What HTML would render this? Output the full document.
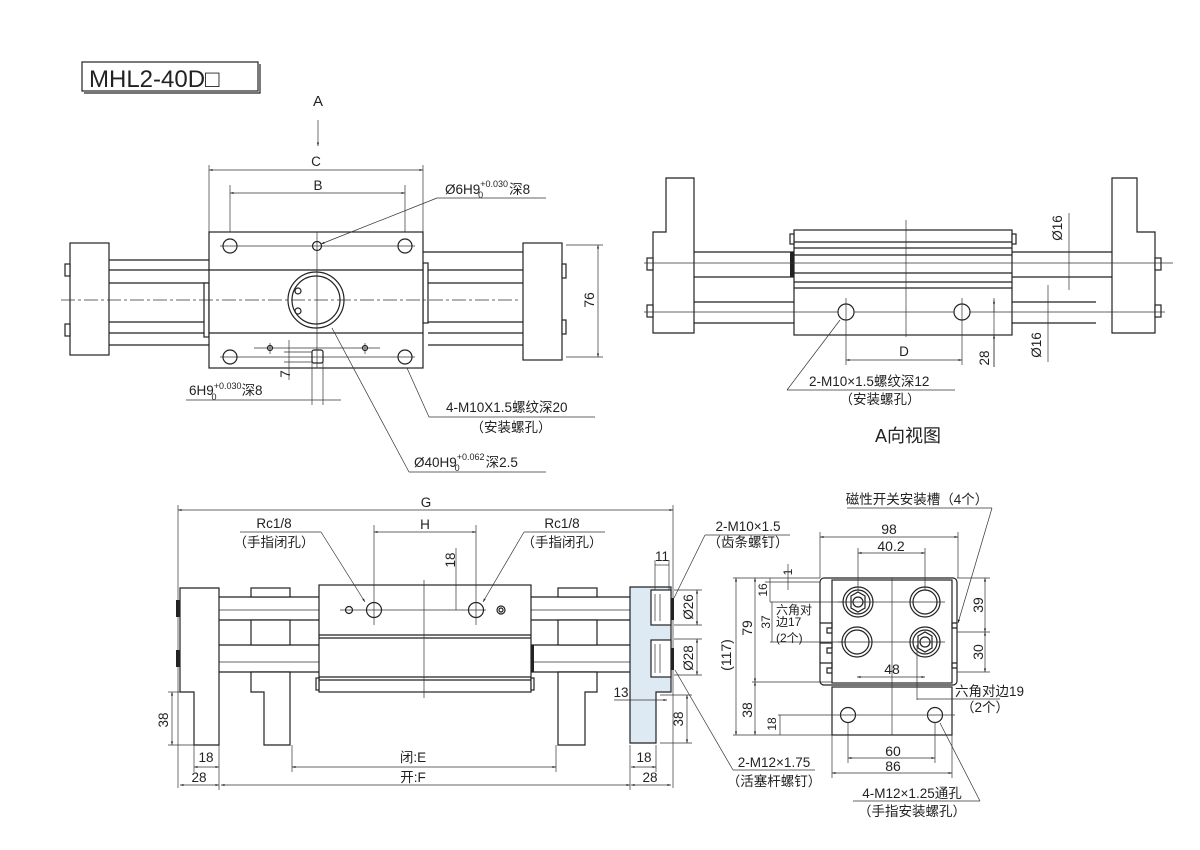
<!DOCTYPE html>
<html><head><meta charset="utf-8"><style>
html,body{margin:0;padding:0;background:#fff}
svg{display:block}
text{font-family:"Liberation Sans","Noto Sans CJK SC",sans-serif;fill:#222;font-size:13.5px}
.l{stroke:#222;stroke-width:1.2;fill:none}
.t{stroke:#333;stroke-width:0.7;fill:none}
.b{stroke:#222;stroke-width:1.2;fill:#fff}
.c{stroke:#333;stroke-width:0.7;fill:none;stroke-dasharray:14 3 3 3}
</style></head><body>
<svg width="1200" height="850" viewBox="0 0 1200 850" xmlns="http://www.w3.org/2000/svg">
<defs>
<marker id="a" viewBox="0 0 10 10" refX="10" refY="5" markerWidth="7" markerHeight="5" orient="auto-start-reverse"><path d="M0,2 L10,5 L0,8z" fill="#222"/></marker>
</defs>

<rect x="82" y="62" width="176" height="29" class="l" stroke-width="1.4"/>
<path d="M260,64 V93 H84" class="l" stroke-width="2.2"/>
<text x="89" y="87" style="font-size:24px">MHL2-40D□</text>

<text x="318" y="106" text-anchor="middle" style="font-size:15px">A</text>
<line x1="318" y1="120" x2="318" y2="146" class="t" marker-end="url(#a)"/>

<!-- TOP LEFT -->
<line x1="209" y1="165" x2="209" y2="232" class="t"/>
<line x1="423" y1="165" x2="423" y2="232" class="t"/>
<line x1="209" y1="170" x2="423" y2="170" class="t" marker-start="url(#a)" marker-end="url(#a)"/>
<text x="316" y="166" text-anchor="middle">C</text>
<line x1="230" y1="185" x2="230" y2="365" class="t"/>
<line x1="405" y1="185" x2="405" y2="365" class="t"/>
<line x1="230" y1="193" x2="405" y2="193" class="t" marker-start="url(#a)" marker-end="url(#a)"/>
<text x="318" y="190" text-anchor="middle">B</text>
<rect x="70" y="243" width="39" height="112" class="b"/>
<rect x="65" y="264" width="5" height="12" class="b"/>
<rect x="65" y="324" width="5" height="12" class="b"/>
<path d="M109,260 H209 M109,283 H209 M109,322 H204 M109,345 H209 M109,270 H209 M109,333 H204" class="l"/>
<rect x="204" y="283" width="5" height="54" class="b"/>
<rect x="523" y="243" width="39" height="117" class="b"/>
<rect x="562" y="264" width="4" height="14" class="b"/>
<rect x="562" y="320" width="4" height="14" class="b"/>
<path d="M423,252 H523 M423,270 H523 M428,283 H523 M428,322 H523 M428,333 H523 M428,345 H523" class="l"/>
<rect x="423" y="263" width="5" height="60" class="b"/>
<rect x="209" y="232" width="214" height="136" class="b"/>
<path d="M209,270 H423 M209,333 H423" class="l"/>
<line x1="61" y1="300" x2="520" y2="300" class="c"/>
<line x1="317" y1="232" x2="317" y2="368" class="t"/>
<line x1="220" y1="246" x2="415" y2="246" class="t"/>
<line x1="220" y1="357" x2="415" y2="357" class="t"/>
<circle cx="230" cy="246" r="7" class="l"/><circle cx="405" cy="246" r="7" class="l"/>
<circle cx="317" cy="246" r="4.5" class="l"/>
<circle cx="230" cy="357" r="7" class="l"/><circle cx="405" cy="357" r="7" class="l"/>
<circle cx="316" cy="300" r="28" class="l"/><circle cx="316" cy="300" r="24" class="l"/>
<circle cx="298" cy="291" r="3" class="l"/><circle cx="298" cy="311" r="3" class="l"/>
<path d="M254,348 H380 M270,343 V354 M365,343 V354" class="t"/>
<circle cx="270" cy="348" r="2.5" class="l"/><circle cx="365" cy="348" r="2.5" class="l"/>
<path d="M284,352 H312 M284,362 H312" class="t"/>
<rect x="312" y="350" width="11" height="13" rx="2" class="l"/>
<line x1="289" y1="340" x2="289" y2="380" class="t"/>
<text transform="translate(290,374) rotate(-90)" text-anchor="middle">7</text>
<line x1="312" y1="362" x2="312" y2="405" class="t"/>
<line x1="323" y1="362" x2="323" y2="405" class="t"/>
<line x1="186" y1="400" x2="341" y2="400" class="t"/>
<text x="189" y="395">6H9<tspan dy="-6" style="font-size:9px">+0.030</tspan><tspan dx="-30" dy="11" style="font-size:9px">0</tspan><tspan dy="-5" dx="25">深8</tspan></text>
<line x1="566" y1="245" x2="603" y2="245" class="t"/>
<line x1="566" y1="357" x2="603" y2="357" class="t"/>
<line x1="598" y1="245" x2="598" y2="357" class="t" marker-start="url(#a)" marker-end="url(#a)"/>
<text transform="translate(594,300) rotate(-90)" text-anchor="middle" style="font-size:14px">76</text>
<text x="445" y="194">Ø6H9<tspan dy="-7" style="font-size:9px">+0.030</tspan><tspan dx="-30" dy="11" style="font-size:9px">0</tspan><tspan dy="-4" dx="26">深8</tspan></text>
<line x1="437" y1="198" x2="546" y2="198" class="t"/>
<line x1="437" y1="198" x2="321" y2="244" class="t" marker-end="url(#a)"/>
<text x="446" y="412">4-M10X1.5螺纹深20</text>
<line x1="429" y1="417" x2="595" y2="417" class="t"/>
<line x1="429" y1="417" x2="407" y2="368" class="t"/>
<text x="511" y="432" text-anchor="middle">（安装螺孔）</text>
<text x="414" y="467">Ø40H9<tspan dy="-7" style="font-size:9px">+0.062</tspan><tspan dx="-30" dy="11" style="font-size:9px">0</tspan><tspan dy="-4" dx="26">深2.5</tspan></text>
<line x1="409" y1="472" x2="546" y2="472" class="t"/>
<line x1="409" y1="472" x2="332" y2="328" class="t"/>

<!-- A VIEW -->
<polygon points="666,178 694,178 694,333 653,333 653,232 666,232" class="b"/>
<polygon points="1112,178 1137,178 1137,232 1155,232 1155,333 1112,333" class="b"/>
<rect x="647" y="258" width="6" height="12" class="b"/><rect x="647" y="305" width="6" height="12" class="b"/>
<rect x="1155" y="258" width="6" height="12" class="b"/><rect x="1155" y="305" width="6" height="12" class="b"/>
<path d="M694,252 H794 M694,277 H794 M694,302 H794 M694,323 H794 M1012,252 H1112 M1012,277 H1112 M1012,302 H1096 M1012,323 H1096" class="l"/>
<rect x="790" y="252" width="4" height="25" fill="#222"/>
<rect x="794" y="230" width="218" height="105" class="b"/>
<path d="M794,242 H1012 M794,248 H1012 M794,255 H1012 M794,273 H1012 M794,282 H1012 M794,288 H1012" class="l"/>
<rect x="790" y="234" width="4" height="10" class="b"/><rect x="1012" y="234" width="4" height="10" class="b"/>
<line x1="644" y1="263" x2="1173" y2="263" class="t"/>
<line x1="644" y1="312" x2="1165" y2="312" class="t"/>
<line x1="906" y1="220" x2="906" y2="337" class="t"/>
<circle cx="846" cy="312" r="8" class="b"/><circle cx="962" cy="312" r="8" class="b"/>
<line x1="846" y1="298" x2="846" y2="365" class="t"/><line x1="962" y1="298" x2="962" y2="365" class="t"/>
<line x1="846" y1="360" x2="962" y2="360" class="t" marker-start="url(#a)" marker-end="url(#a)"/>
<text x="904" y="356" text-anchor="middle">D</text>
<line x1="994" y1="298" x2="994" y2="367" class="t"/>
<line x1="994" y1="300" x2="994" y2="312" class="t" marker-start="url(#a)"/>
<line x1="994" y1="335" x2="994" y2="367" class="t" marker-start="url(#a)"/>
<text transform="translate(989,358) rotate(-90)" text-anchor="middle">28</text>
<line x1="1069" y1="213" x2="1069" y2="290" class="t"/>
<text transform="translate(1062,228) rotate(-90)" text-anchor="middle">Ø16</text>
<line x1="1048" y1="285" x2="1048" y2="362" class="t"/>
<text transform="translate(1041,345) rotate(-90)" text-anchor="middle">Ø16</text>
<text x="809" y="386">2-M10×1.5螺纹深12</text>
<line x1="787" y1="390" x2="955" y2="390" class="t"/>
<line x1="787" y1="390" x2="840" y2="320" class="t"/>
<text x="880" y="404" text-anchor="middle">（安装螺孔）</text>
<text x="908" y="442" text-anchor="middle" style="font-size:18px">A向视图</text>

<!-- BOTTOM LEFT -->
<line x1="178" y1="505" x2="178" y2="788" class="t"/>
<line x1="673" y1="505" x2="673" y2="788" class="t"/>
<line x1="178" y1="510" x2="673" y2="510" class="t" marker-start="url(#a)" marker-end="url(#a)"/>
<text x="426" y="507" text-anchor="middle">G</text>
<polygon points="180,588 219,588 219,745 194,745 194,692 180,692" class="b"/>
<rect x="176" y="600" width="4" height="17" fill="#222"/><rect x="176" y="650" width="4" height="17" fill="#222"/>
<path d="M219,597 H319 M219,620 H319 M219,645 H319 M219,672 H319 M531,597 H630 M531,620 H630 M531,645 H630 M531,672 H630" class="l"/>
<path d="M219,610 H325 M219,662 H325 M525,610 H630 M525,662 H630" class="t"/>
<rect x="251" y="588" width="39" height="9" class="b"/>
<rect x="251" y="620" width="39" height="25" class="b"/>
<polygon points="251,672 290,672 290,745 264,745 264,692 251,692" class="b"/>
<rect x="558" y="588" width="39" height="9" class="b"/>
<rect x="558" y="620" width="39" height="25" class="b"/>
<polygon points="558,672 597,672 597,692 585,692 585,745 558,745" class="b"/>
<rect x="319" y="585" width="212" height="107" class="b"/>
<path d="M319,635 H531 M319,638 H531 M319,677 H531 M319,680 H531" class="l"/>
<rect x="316" y="678" width="3" height="12" class="b"/><rect x="531" y="678" width="3" height="12" class="b"/>
<rect x="531" y="645" width="3" height="27" fill="#222"/>
<line x1="424" y1="580" x2="424" y2="698" class="t"/>
<line x1="340" y1="610" x2="486" y2="610" class="t"/>
<circle cx="374" cy="610" r="7.5" class="l"/><circle cx="476" cy="610" r="7.5" class="l"/>
<circle cx="349" cy="610" r="3.5" class="l"/><circle cx="501" cy="610" r="4" class="l"/><circle cx="501" cy="610" r="2" class="l"/>
<line x1="374" y1="525" x2="374" y2="625" class="t"/><line x1="476" y1="525" x2="476" y2="625" class="t"/>
<line x1="374" y1="532" x2="476" y2="532" class="t" marker-start="url(#a)" marker-end="url(#a)"/>
<text x="425" y="529" text-anchor="middle">H</text>
<line x1="456" y1="548" x2="456" y2="610" class="t"/>
<text transform="translate(455,560) rotate(-90)" text-anchor="middle">18</text>
<text x="274" y="528" text-anchor="middle">Rc1/8</text>
<text x="274" y="547" text-anchor="middle">（手指闭孔）</text>
<line x1="240" y1="532" x2="321" y2="532" class="t"/>
<line x1="321" y1="532" x2="365" y2="602" class="t" marker-end="url(#a)"/>
<text x="562" y="528" text-anchor="middle">Rc1/8</text>
<text x="562" y="547" text-anchor="middle">（手指闭孔）</text>
<line x1="524" y1="532" x2="605" y2="532" class="t"/>
<line x1="524" y1="532" x2="483" y2="602" class="t" marker-end="url(#a)"/>
<polygon points="630,587 671,587 671,692 656,692 656,743 630,743" fill="#dde9f3" stroke="#222" stroke-width="1.2"/>
<rect x="651" y="590" width="20" height="35" class="b"/><rect x="651" y="640" width="20" height="37" class="b"/>
<path d="M655,594 V621 M660,594 V621 M655,644 V673 M660,644 V673" class="t"/>
<rect x="671" y="598" width="3" height="22" fill="#222"/><rect x="671" y="648" width="3" height="22" fill="#222"/>
<line x1="655" y1="560" x2="655" y2="590" class="t"/><line x1="669" y1="560" x2="669" y2="590" class="t"/>
<line x1="655" y1="565" x2="669" y2="565" class="t"/>
<text x="662" y="561" text-anchor="middle">11</text>
<line x1="674" y1="590" x2="702" y2="590" class="t"/><line x1="674" y1="625" x2="702" y2="625" class="t"/>
<line x1="697" y1="590" x2="697" y2="625" class="t" marker-start="url(#a)" marker-end="url(#a)"/>
<text transform="translate(693,607) rotate(-90)" text-anchor="middle">Ø26</text>
<line x1="674" y1="639" x2="702" y2="639" class="t"/><line x1="674" y1="675" x2="702" y2="675" class="t"/>
<line x1="697" y1="639" x2="697" y2="675" class="t" marker-start="url(#a)" marker-end="url(#a)"/>
<text transform="translate(693,658) rotate(-90)" text-anchor="middle">Ø28</text>
<text x="621" y="697" text-anchor="middle">13</text>
<line x1="614" y1="700" x2="667" y2="700" class="t" marker-end="url(#a)"/>
<line x1="660" y1="695" x2="692" y2="695" class="t"/><line x1="660" y1="743" x2="692" y2="743" class="t"/>
<line x1="687" y1="695" x2="687" y2="743" class="t" marker-start="url(#a)" marker-end="url(#a)"/>
<text transform="translate(683,719) rotate(-90)" text-anchor="middle">38</text>
<line x1="168" y1="692" x2="180" y2="692" class="t"/><line x1="168" y1="745" x2="194" y2="745" class="t"/>
<line x1="172" y1="692" x2="172" y2="745" class="t" marker-start="url(#a)" marker-end="url(#a)"/>
<text transform="translate(168,720) rotate(-90)" text-anchor="middle">38</text>
<line x1="194" y1="745" x2="194" y2="772" class="t"/><line x1="219" y1="745" x2="219" y2="790" class="t"/>
<line x1="194" y1="767" x2="219" y2="767" class="t" marker-start="url(#a)" marker-end="url(#a)"/>
<text x="206" y="762" text-anchor="middle">18</text>
<line x1="180" y1="785" x2="219" y2="785" class="t" marker-start="url(#a)" marker-end="url(#a)"/>
<text x="199" y="782" text-anchor="middle">28</text>
<line x1="292" y1="745" x2="292" y2="772" class="t"/><line x1="556" y1="745" x2="556" y2="772" class="t"/>
<line x1="292" y1="767" x2="556" y2="767" class="t" marker-start="url(#a)" marker-end="url(#a)"/>
<text x="413" y="762" text-anchor="middle">闭:E</text>
<line x1="221" y1="785" x2="630" y2="785" class="t" marker-start="url(#a)" marker-end="url(#a)"/>
<text x="413" y="782" text-anchor="middle">开:F</text>
<line x1="630" y1="745" x2="630" y2="790" class="t"/><line x1="656" y1="745" x2="656" y2="772" class="t"/>
<line x1="631" y1="767" x2="656" y2="767" class="t" marker-start="url(#a)" marker-end="url(#a)"/>
<text x="644" y="762" text-anchor="middle">18</text>
<line x1="631" y1="785" x2="671" y2="785" class="t" marker-start="url(#a)" marker-end="url(#a)"/>
<text x="650" y="782" text-anchor="middle">28</text>
<text x="748" y="531" text-anchor="middle">2-M10×1.5</text>
<text x="748" y="547" text-anchor="middle">（齿条螺钉）</text>
<line x1="705" y1="535" x2="790" y2="535" class="t"/>
<line x1="705" y1="535" x2="674" y2="598" class="t"/>
<text x="774" y="767" text-anchor="middle">2-M12×1.75</text>
<line x1="733" y1="770" x2="815" y2="770" class="t"/>
<line x1="733" y1="770" x2="675" y2="670" class="t"/>
<text x="774" y="786" text-anchor="middle">（活塞杆螺钉）</text>

<!-- BOTTOM RIGHT -->
<rect x="820" y="578" width="137" height="107" rx="4" class="b"/>
<rect x="832" y="580" width="120" height="103" class="l"/>
<path d="M820,623 h12 v5 h-5 v5 h5 M820,643 h12 v5 h-5 v5 h5 M820,663 h12 v5 h-5 v5 h5 M957,623 h-5 v5 h5 M957,663 h-5 v5 h5" class="l"/>
<rect x="832" y="687" width="120" height="48" class="b"/>
<line x1="892" y1="578" x2="892" y2="735" class="t"/>
<line x1="838" y1="602" x2="945" y2="602" class="t"/><line x1="838" y1="642" x2="945" y2="642" class="t"/>
<circle cx="858" cy="602" r="15" class="l"/><circle cx="858" cy="602" r="12" class="l"/>
<polygon points="851,596 858,592 865,596 865,608 858,612 851,608" class="l"/><circle cx="858" cy="602" r="5" class="l"/>
<circle cx="925" cy="602" r="15" class="l"/><circle cx="925" cy="602" r="12" class="l"/>
<circle cx="857" cy="642" r="15" class="l"/><circle cx="857" cy="642" r="12" class="l"/>
<circle cx="925" cy="642" r="15" class="l"/><circle cx="925" cy="642" r="12" class="l"/>
<polygon points="918,636 925,632 932,636 932,648 925,652 918,648" class="l"/><circle cx="925" cy="642" r="5" class="l"/>
<circle cx="848" cy="715" r="7.5" class="b"/><circle cx="935" cy="715" r="7.5" class="b"/>
<line x1="778" y1="715" x2="955" y2="715" class="t"/>
<line x1="820" y1="532" x2="820" y2="578" class="t"/><line x1="958" y1="532" x2="958" y2="578" class="t"/>
<line x1="820" y1="537" x2="958" y2="537" class="t" marker-start="url(#a)" marker-end="url(#a)"/>
<text x="889" y="534" text-anchor="middle" style="font-size:14px">98</text>
<line x1="858" y1="548" x2="858" y2="590" class="t"/><line x1="925" y1="548" x2="925" y2="590" class="t"/>
<line x1="858" y1="553" x2="925" y2="553" class="t" marker-start="url(#a)" marker-end="url(#a)"/>
<text x="891" y="551" text-anchor="middle" style="font-size:14px">40.2</text>
<line x1="733" y1="578" x2="820" y2="578" class="t"/>
<line x1="765" y1="582" x2="820" y2="582" class="t"/>
<line x1="770" y1="602" x2="845" y2="602" class="t"/>
<line x1="770" y1="642" x2="845" y2="642" class="t"/>
<line x1="752" y1="682" x2="832" y2="682" class="t"/>
<line x1="733" y1="735" x2="832" y2="735" class="t"/>
<line x1="788" y1="564" x2="788" y2="590" class="t"/>
<text transform="translate(792,572) rotate(-90)" text-anchor="middle" style="font-size:12px">1</text>
<line x1="770" y1="578" x2="770" y2="602" class="t"/>
<text transform="translate(767,590) rotate(-90)" text-anchor="middle" style="font-size:12px">16</text>
<line x1="772" y1="602" x2="772" y2="642" class="t"/>
<text transform="translate(770,622) rotate(-90)" text-anchor="middle" style="font-size:12px">37</text>
<line x1="755" y1="578" x2="755" y2="682" class="t" marker-start="url(#a)" marker-end="url(#a)"/>
<text transform="translate(752,628) rotate(-90)" text-anchor="middle" style="font-size:14px">79</text>
<line x1="736" y1="578" x2="736" y2="735" class="t" marker-start="url(#a)" marker-end="url(#a)"/>
<text transform="translate(731,655) rotate(-90)" text-anchor="middle" style="font-size:14px">(117)</text>
<line x1="755" y1="682" x2="755" y2="735" class="t" marker-start="url(#a)" marker-end="url(#a)"/>
<text transform="translate(752,710) rotate(-90)" text-anchor="middle" style="font-size:14px">38</text>
<line x1="780" y1="715" x2="780" y2="735" class="t"/>
<text transform="translate(776,724) rotate(-90)" text-anchor="middle" style="font-size:12px">18</text>
<text x="776" y="614" style="font-size:12px">六角对</text>
<text x="776" y="626" style="font-size:12px">边17</text>
<text x="776" y="642" style="font-size:12px">(2个)</text>
<line x1="957" y1="578" x2="990" y2="578" class="t"/><line x1="957" y1="632" x2="990" y2="632" class="t"/><line x1="957" y1="672" x2="990" y2="672" class="t"/>
<line x1="985" y1="578" x2="985" y2="632" class="t" marker-start="url(#a)" marker-end="url(#a)"/>
<text transform="translate(983,605) rotate(-90)" text-anchor="middle" style="font-size:14px">39</text>
<line x1="985" y1="632" x2="985" y2="672" class="t" marker-start="url(#a)" marker-end="url(#a)"/>
<text transform="translate(983,652) rotate(-90)" text-anchor="middle" style="font-size:14px">30</text>
<line x1="857" y1="677" x2="925" y2="677" class="t" marker-start="url(#a)" marker-end="url(#a)"/>
<text x="892" y="674" text-anchor="middle" style="font-size:14px">48</text>
<line x1="917" y1="645" x2="917" y2="700" class="t"/>
<line x1="917" y1="699" x2="1000" y2="699" class="t"/>
<text x="955" y="696">六角对边19</text>
<text x="985" y="712" text-anchor="middle">（2个）</text>
<line x1="848" y1="722" x2="848" y2="763" class="t"/><line x1="935" y1="722" x2="935" y2="763" class="t"/>
<line x1="848" y1="758" x2="935" y2="758" class="t" marker-start="url(#a)" marker-end="url(#a)"/>
<text x="893" y="756" text-anchor="middle" style="font-size:14px">60</text>
<line x1="832" y1="735" x2="832" y2="778" class="t"/><line x1="952" y1="735" x2="952" y2="778" class="t"/>
<line x1="832" y1="773" x2="952" y2="773" class="t" marker-start="url(#a)" marker-end="url(#a)"/>
<text x="893" y="771" text-anchor="middle" style="font-size:14px">86</text>
<text x="912" y="798" text-anchor="middle">4-M12×1.25通孔</text>
<line x1="853" y1="801" x2="980" y2="801" class="t"/>
<line x1="980" y1="801" x2="940" y2="723" class="t"/>
<text x="912" y="816" text-anchor="middle">（手指安装螺孔）</text>
<text x="917" y="504" text-anchor="middle">磁性开关安装槽（4个）</text>
<line x1="847" y1="508" x2="992" y2="508" class="t"/>
<line x1="992" y1="508" x2="958" y2="623" class="t" marker-end="url(#a)"/>
</svg>
</body></html>
